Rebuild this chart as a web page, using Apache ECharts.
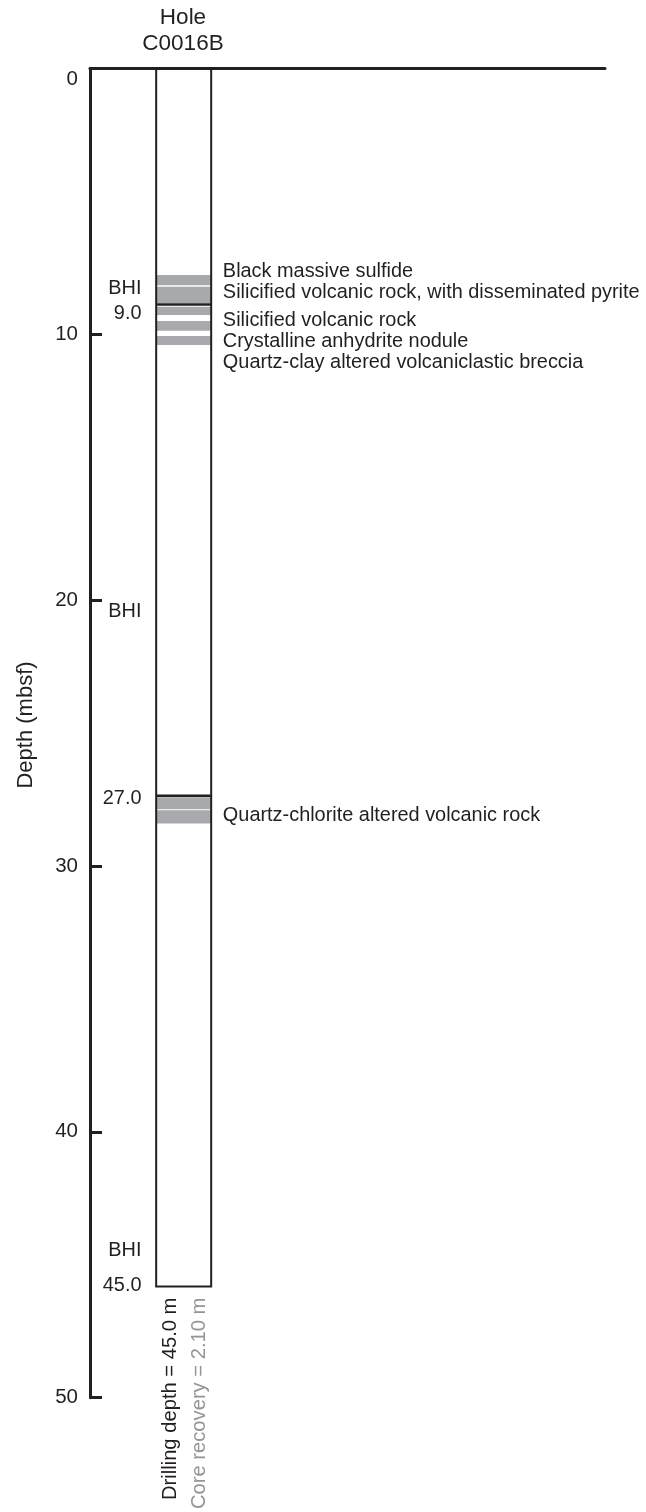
<!DOCTYPE html>
<html>
<head>
<meta charset="utf-8">
<script src="https://cdn.jsdelivr.net/npm/echarts@6.0.0/dist/echarts.min.js"></script>
<style>
html,body{margin:0;padding:0;background:#fff;}
#chart{width:646px;height:1512px;}
</style>
</head>
<body>
<div id="chart"></div>
<script>
// ---- data ----
const depthTicks = [0, 10, 20, 30, 40, 50];
const holeName = 'C0016B';
const holeBottomDepth = 45.82;
const summaryTexts = ['Drilling depth = 45.0 m', 'Core recovery = 2.10 m'];
const bandTops    = [7.77, 8.22, 8.97, 9.50, 10.07, 27.42, 27.91];
const bandBottoms = [8.16, 8.84, 9.28, 9.87, 10.41, 27.87, 28.40];
const coreTopDepths = [8.88, 27.36];
const leftLabels = ['BHI', '9.0', 'BHI', '27.0', 'BHI', '45.0'];
const leftLabelDepths = [8.27, 9.23, 20.44, 27.48, 44.48, 45.78];
const lithoLabels = [
  'Black massive sulfide',
  'Silicified volcanic rock, with disseminated pyrite',
  'Silicified volcanic rock',
  'Crystalline anhydrite nodule',
  'Quartz-clay altered volcaniclastic breccia',
  'Quartz-chlorite altered volcanic rock'
];
const lithoDepths = [7.65, 8.45, 9.47, 10.26, 11.05, 28.10];

// ---- layout / style ----
const FONT = '"Liberation Sans", Arial, Helvetica, sans-serif';
const INK = '#231f20';
const GRAY_TEXT = '#939598';
const BAND = '#a7a9ac';
const COL_L = 12.85, COL_R = 23.53;   // column edges in x units (0..100)
const LEFT_TEXT_X = 10.0;             // right edge of left labels
const LITHO_X = 25.8;                 // left edge of lithology labels
const FS = 19.9;

const chart = echarts.init(document.getElementById('chart'), null, {renderer: 'canvas'});

const option = {
  animation: false,
  backgroundColor: '#fff',
  title: {
    text: 'Hole\n' + holeName,
    left: 178,
    top: 0.5,
    textAlign: 'center',
    textStyle: {fontFamily: FONT, fontSize: 22.5, fontWeight: 'normal', color: INK, lineHeight: 25.5}
  },
  grid: {left: 90, right: 41, top: 68.3, bottom: 114.3, containLabel: false},
  xAxis: {
    type: 'value', min: 0, max: 100, position: 'top',
    axisLine: {show: true, onZero: false, lineStyle: {color: INK, width: 3}},
    axisTick: {show: false}, axisLabel: {show: false}, splitLine: {show: false}
  },
  yAxis: {
    type: 'value', inverse: true, min: depthTicks[0], max: depthTicks[depthTicks.length - 1], interval: 10,
    name: 'Depth (mbsf)', nameLocation: 'middle', nameGap: 53,
    nameTextStyle: {fontFamily: FONT, fontSize: 22, color: INK, padding: [0, 0, 0, 16]},
    axisLine: {show: true, onZero: false, lineStyle: {color: INK, width: 3}},
    axisTick: {show: true, inside: true, length: 12, lineStyle: {color: INK, width: 3}},
    splitLine: {show: false},
    axisLabel: {
      margin: 12, fontFamily: FONT, fontSize: 20.5, color: INK,
      formatter: v => v === 0 ? '{z|0}' : String(v),
      rich: {z: {fontFamily: FONT, fontSize: 20.5, color: INK, padding: [22, 0, 0, 0]}}
    }
  },
  series: [
    {
      type: 'custom', name: 'bands', z: 2, clip: false,
      data: bandTops.map((t, i) => [t, bandBottoms[i]]),
      renderItem: (params, api) => {
        const a = api.coord([COL_L, api.value(0)]);
        const b = api.coord([COL_R, api.value(1)]);
        return {type: 'rect', shape: {x: a[0], y: a[1], width: b[0] - a[0], height: b[1] - a[1]}, style: {fill: BAND}};
      }
    },
    {
      type: 'custom', name: 'coreTops', z: 3, clip: false,
      data: coreTopDepths.map(d => [d]),
      renderItem: (params, api) => {
        const a = api.coord([COL_L, api.value(0)]);
        const b = api.coord([COL_R, api.value(0)]);
        return {type: 'line', shape: {x1: a[0], y1: a[1], x2: b[0], y2: b[1]}, style: {stroke: INK, lineWidth: 2.5}};
      }
    },
    {
      type: 'custom', name: 'hole', z: 4, clip: false,
      data: [[holeBottomDepth]],
      renderItem: (params, api) => {
        const a = api.coord([COL_L, 0]);
        const b = api.coord([COL_R, api.value(0)]);
        const children = [
          {type: 'rect', shape: {x: a[0], y: a[1], width: b[0] - a[0], height: b[1] - a[1]},
           style: {fill: null, stroke: INK, lineWidth: 2}}
        ];
        const cx = (a[0] + b[0]) / 2;
        const y = b[1] + 11;
        children.push({type: 'text', x: cx - 13.5, y: y, rotation: Math.PI / 2,
          style: {text: summaryTexts[0], fill: INK, fontFamily: FONT, fontSize: 20.2, align: 'right', verticalAlign: 'middle'}});
        children.push({type: 'text', x: cx + 16, y: y, rotation: Math.PI / 2,
          style: {text: summaryTexts[1], fill: GRAY_TEXT, fontFamily: FONT, fontSize: 20.2, align: 'right', verticalAlign: 'middle'}});
        return {type: 'group', children};
      }
    },
    {
      type: 'custom', name: 'leftLabels', z: 5, clip: false,
      data: leftLabelDepths.map(d => [d]),
      renderItem: (params, api) => {
        const p = api.coord([LEFT_TEXT_X, api.value(0)]);
        return {type: 'text', x: p[0], y: p[1],
          style: {text: leftLabels[params.dataIndex], fill: INK, fontFamily: FONT, fontSize: FS, align: 'right', verticalAlign: 'middle'}};
      }
    },
    {
      type: 'custom', name: 'lithology', z: 5, clip: false,
      data: lithoDepths.map(d => [d]),
      renderItem: (params, api) => {
        const p = api.coord([LITHO_X, api.value(0)]);
        return {type: 'text', x: p[0], y: p[1],
          style: {text: lithoLabels[params.dataIndex], fill: INK, fontFamily: FONT, fontSize: FS, align: 'left', verticalAlign: 'middle'}};
      }
    }
  ]
};
chart.setOption(option);
</script>
</body>
</html>
